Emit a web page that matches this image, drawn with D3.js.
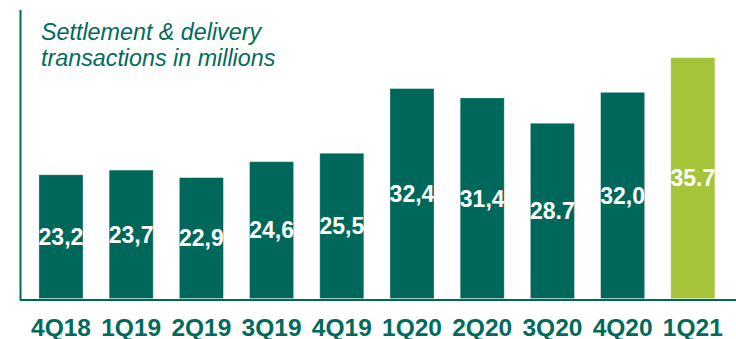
<!DOCTYPE html>
<html>
<head>
<meta charset="utf-8">
<script src="https://cdn.jsdelivr.net/npm/d3@7"></script>
<style>
  html, body { margin: 0; padding: 0; background: #fff; }
  svg { display: block; }
</style>
</head>
<body>
<svg id="chart" width="736" height="339"></svg>
<script>
// Quarterly settlement & delivery transactions (millions)
const quarters = ["4Q18", "1Q19", "2Q19", "3Q19", "4Q19", "1Q20", "2Q20", "3Q20", "4Q20", "1Q21"];
const transactions = [23.2, 23.7, 22.9, 24.6, 25.5, 32.4, 31.4, 28.7, 32.0, 35.7];
const valueLabels = ["23,2", "23,7", "22,9", "24,6", "25,5", "32,4", "31,4", "28.7", "32,0", "35.7"];
const titleLines = ["Settlement & delivery", "transactions in millions"];

const darkGreen = "#00685a";
const lightGreen = "#a6c43a";
const textGreen = "#006b5b";

const svg = d3.select("#chart");

const x = d3.scaleBand()
  .domain(quarters)
  .range([17.9, 735.9])
  .paddingInner(0.373)
  .paddingOuter(0.3);

const y = d3.scaleLinear()
  .domain([10, 41])
  .range([298.5, 8]);

// bars, with a faint light edge
svg.append("g")
  .selectAll("rect")
  .data(quarters)
  .join("rect")
  .attr("x", d => x(d))
  .attr("width", x.bandwidth())
  .attr("y", (d, i) => y(transactions[i]))
  .attr("height", (d, i) => y.range()[0] - y(transactions[i]))
  .attr("fill", (d, i) => i === quarters.length - 1 ? lightGreen : darkGreen)
  .attr("stroke", "#ffffff")
  .attr("stroke-opacity", 0.35)
  .attr("stroke-width", 0.8);

// value labels centred inside each bar
svg.append("g")
  .selectAll("text")
  .data(quarters)
  .join("text")
  .attr("x", d => x(d) + x.bandwidth() / 2)
  .attr("y", (d, i) => (y(transactions[i]) + y.range()[0]) / 2)
  .attr("dy", "0.36em")
  .attr("text-anchor", "middle")
  .attr("font-family", "Liberation Sans, Arial, sans-serif")
  .attr("font-weight", "bold")
  .attr("font-size", 23)
  .attr("fill", "#fff")
  .text((d, i) => valueLabels[i]);

// vertical axis line
svg.append("line")
  .attr("x1", 20.5).attr("x2", 20.5)
  .attr("y1", 10).attr("y2", 300)
  .attr("stroke", darkGreen).attr("stroke-width", 2);

// category axis
const xAxis = svg.append("g")
  .attr("transform", "translate(0,300)")
  .call(d3.axisBottom(x).tickSize(0).tickPadding(0));
xAxis.select(".domain")
  .attr("d", "M20,0H736")
  .attr("stroke", darkGreen)
  .attr("stroke-width", 2);
xAxis.selectAll("text")
  .attr("y", 35.5)
  .attr("dy", null)
  .attr("font-family", "Liberation Sans, Arial, sans-serif")
  .attr("font-weight", "bold")
  .attr("font-size", 24.5)
  .attr("fill", textGreen);

// title
svg.append("text")
  .attr("font-family", "Liberation Sans, Arial, sans-serif")
  .attr("font-style", "italic")
  .attr("font-size", 23.3)
  .attr("fill", textGreen)
  .selectAll("tspan")
  .data(titleLines)
  .join("tspan")
  .attr("x", 41)
  .attr("y", (d, i) => 39.5 + i * 26)
  .text(d => d);
</script>
</body>
</html>
